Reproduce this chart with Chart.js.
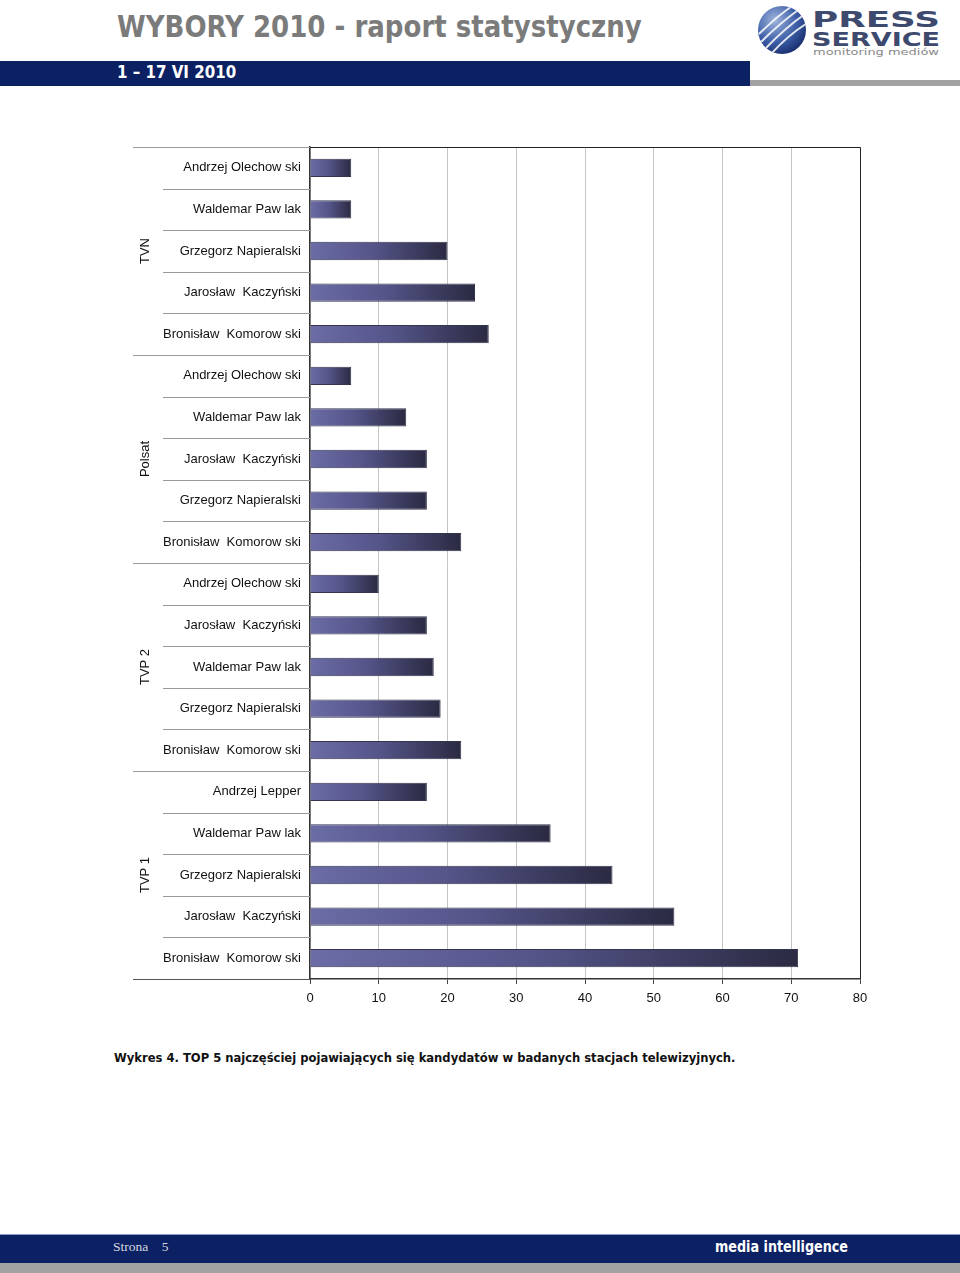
<!DOCTYPE html>
<html>
<head>
<meta charset="utf-8">
<script src="https://cdn.jsdelivr.net/npm/chart.js@4/dist/chart.umd.min.js"></script>
<style>
  body { margin:0; width:960px; height:1273px; position:relative; background:#fff; overflow:hidden; font-family:"Liberation Sans", Arial, sans-serif; }
  .cond { font-family:"DejaVu Sans Condensed", "DejaVu Sans", sans-serif; font-weight:bold; white-space:nowrap; transform-origin:0 0; }
  #title { position:absolute; left:117px; top:8px; font-size:31px; color:#7b7b7b; transform:scaleX(0.934); }
  #band { position:absolute; left:0; top:61px; width:750px; height:25px; background:#0c2163; }
  #bandgray { position:absolute; left:750px; top:80px; width:210px; height:6px; background:#a2a2a2; }
  #dates { position:absolute; left:117px; top:62px; font-size:17px; color:#fff; transform:scaleX(0.985); }
  #logo { position:absolute; left:757px; top:4px; width:190px; height:54px; }
  #caption { position:absolute; left:114px; top:1050px; font-size:13px; color:#111; transform:scaleX(0.989); }
  #foot { position:absolute; left:0; top:1234px; width:960px; height:28px; background:#0c2163; border-top:1px solid #8a9cc8; }
  #footgray { position:absolute; left:0; top:1263px; width:960px; height:10px; background:#a2a2a2; }
  #strona { position:absolute; left:113px; top:1239px; font-family:"Liberation Serif", serif; font-size:13.5px; color:#d8d8e0; white-space:pre; }
  #mi { position:absolute; left:715px; top:1237px; font-size:16px; color:#fff; transform:scaleX(0.887); }
  #chart { position:absolute; left:0; top:130px; }
</style>
</head>
<body>
<div id="title" class="cond">WYBORY 2010 - raport statystyczny</div>
<div id="band"></div>
<div id="bandgray"></div>
<div id="dates" class="cond">1 – 17 VI 2010</div>
<svg id="logo" viewBox="0 0 190 54">
  <defs>
    <radialGradient id="g" cx="35%" cy="30%" r="75%">
      <stop offset="0" stop-color="#9fb4dc"/>
      <stop offset="0.6" stop-color="#3d5fa8"/>
      <stop offset="1" stop-color="#1a2f6e"/>
    </radialGradient>
    <clipPath id="c"><circle cx="25" cy="26" r="24"/></clipPath>
  </defs>
  <circle cx="25" cy="26" r="24" fill="url(#g)"/>
  <g clip-path="url(#c)" stroke="#fff" stroke-width="2" fill="none" opacity="0.85">
    <path d="M2 30 Q20 12 38 0"/><path d="M4 38 Q24 18 44 4"/><path d="M8 45 Q28 24 48 10"/><path d="M14 50 Q32 30 52 18"/>
  </g>
  <text x="55" y="23" font-family="DejaVu Sans, sans-serif" font-weight="bold" font-size="22" fill="#3d4a6e" textLength="128" lengthAdjust="spacingAndGlyphs">PRESS</text>
  <text x="55" y="42" font-family="DejaVu Sans, sans-serif" font-weight="bold" font-size="19" fill="#3d4a6e" textLength="128" lengthAdjust="spacingAndGlyphs">SERVICE</text>
  <text x="56" y="51" font-family="DejaVu Sans, sans-serif" font-size="9" fill="#888" textLength="126" lengthAdjust="spacingAndGlyphs">monitoring mediów</text>
</svg>
<canvas id="chart" width="960" height="890"></canvas>
<div id="caption" class="cond">Wykres 4. TOP 5 najczęściej pojawiających się kandydatów w badanych stacjach telewizyjnych.</div>
<div id="foot"></div>
<div id="footgray"></div>
<div id="strona">Strona    5</div>
<div id="mi" class="cond">media intelligence</div>
<script>
// candidates per row, top to bottom
const candidates = [
  "Andrzej Olechow ski", "Waldemar Paw lak", "Grzegorz Napieralski", "Jarosław  Kaczyński", "Bronisław  Komorow ski",
  "Andrzej Olechow ski", "Waldemar Paw lak", "Jarosław  Kaczyński", "Grzegorz Napieralski", "Bronisław  Komorow ski",
  "Andrzej Olechow ski", "Jarosław  Kaczyński", "Waldemar Paw lak", "Grzegorz Napieralski", "Bronisław  Komorow ski",
  "Andrzej Lepper", "Waldemar Paw lak", "Grzegorz Napieralski", "Jarosław  Kaczyński", "Bronisław  Komorow ski"
]
const counts = [6, 6, 20, 24, 26, 6, 14, 17, 17, 22, 10, 17, 18, 19, 22, 17, 35, 44, 53, 71]
const stations = ["TVN", "Polsat", "TVP 2", "TVP 1"]
const rowsPerStation = [5, 5, 5, 5]
const xTicks = [0, 10, 20, 30, 40, 50, 60, 70, 80]

function barFill(ctx) {
  const chart = ctx.chart
  if (!chart.chartArea || !chart.scales.x) return '#4a4a78'
  const x0 = chart.scales.x.getPixelForValue(0)
  const x1 = chart.scales.x.getPixelForValue(ctx.raw)
  const g = chart.ctx.createLinearGradient(x0, 0, x1, 0)
  g.addColorStop(0, '#6c6ca6')
  g.addColorStop(0.45, '#55558a')
  g.addColorStop(1, '#2a2a42')
  return g
}

// separators between rows, station labels, top/right frame
const groupAxis = {
  id: 'groupAxis',
  afterDraw(chart) {
    const c = chart.ctx
    const y = chart.scales.y
    const area = chart.chartArea
    const n = candidates.length
    const half = (area.bottom - area.top) / n / 2
    c.save()
    c.lineWidth = 1
    c.strokeStyle = '#9a9a9a'
    let start = 0
    const groupEnds = []
    rowsPerStation.forEach(k => { start += k; groupEnds.push(start) })
    for (let i = 0; i < n; i++) {
      const yy = Math.round(y.getPixelForValue(i) - half) + 0.5
      const isGroup = i === 0 || groupEnds.includes(i)
      c.beginPath()
      c.moveTo(isGroup ? 133 : 163, yy)
      c.lineTo(area.left, yy)
      c.stroke()
    }
    c.strokeStyle = '#555'
    c.beginPath()
    c.moveTo(133, Math.round(area.bottom) + 0.5)
    c.lineTo(area.left, Math.round(area.bottom) + 0.5)
    c.stroke()
    // frame
    c.strokeStyle = '#222'
    c.beginPath()
    c.moveTo(area.left, Math.round(area.top) + 0.5)
    c.lineTo(Math.round(area.right) + 0.5, Math.round(area.top) + 0.5)
    c.lineTo(Math.round(area.right) + 0.5, area.bottom)
    c.stroke()
    // station labels
    c.fillStyle = '#111'
    c.font = '13px "Liberation Sans", Arial, sans-serif'
    c.textAlign = 'center'
    c.textBaseline = 'middle'
    let s = 0
    stations.forEach((name, gi) => {
      const first = s, last = s + rowsPerStation[gi] - 1
      s += rowsPerStation[gi]
      const cy = (y.getPixelForValue(first) + y.getPixelForValue(last)) / 2
      c.save()
      c.translate(145, cy)
      c.rotate(-Math.PI / 2)
      c.fillText(name, 0, 0)
      c.restore()
    })
    c.restore()
  }
}

new Chart(document.getElementById('chart'), {
  type: 'bar',
  data: {
    labels: candidates,
    datasets: [{
      data: counts,
      backgroundColor: barFill,
      borderColor: '#34344e',
      borderWidth: 1,
      barPercentage: 0.44,
      categoryPercentage: 1
    }]
  },
  options: {
    indexAxis: 'y',
    responsive: false,
    animation: false,
    layout: { padding: { left: 0, right: 100, top: 17, bottom: 0 } },
    plugins: { legend: { display: false }, tooltip: { enabled: false } },
    scales: {
      x: {
        min: 0,
        max: 80,
        afterBuildTicks: scale => { scale.ticks = xTicks.map(v => ({ value: v })) },
        afterFit: scale => { scale.height = 41 },
        ticks: { color: '#111', font: { family: '"Liberation Sans", Arial, sans-serif', size: 13 }, padding: 7 },
        grid: { color: '#c4c4c4', tickColor: '#444', tickLength: 5 },
        border: { color: '#333', width: 1.5 }
      },
      y: {
        afterFit: scale => { scale.width = 310 },
        ticks: { color: '#111', font: { family: '"Liberation Sans", Arial, sans-serif', size: 13 }, padding: 9, autoSkip: false },
        grid: { display: false, drawTicks: false },
        border: { color: '#333', width: 1.5 }
      }
    }
  },
  plugins: [groupAxis]
})
</script>
</body>
</html>
